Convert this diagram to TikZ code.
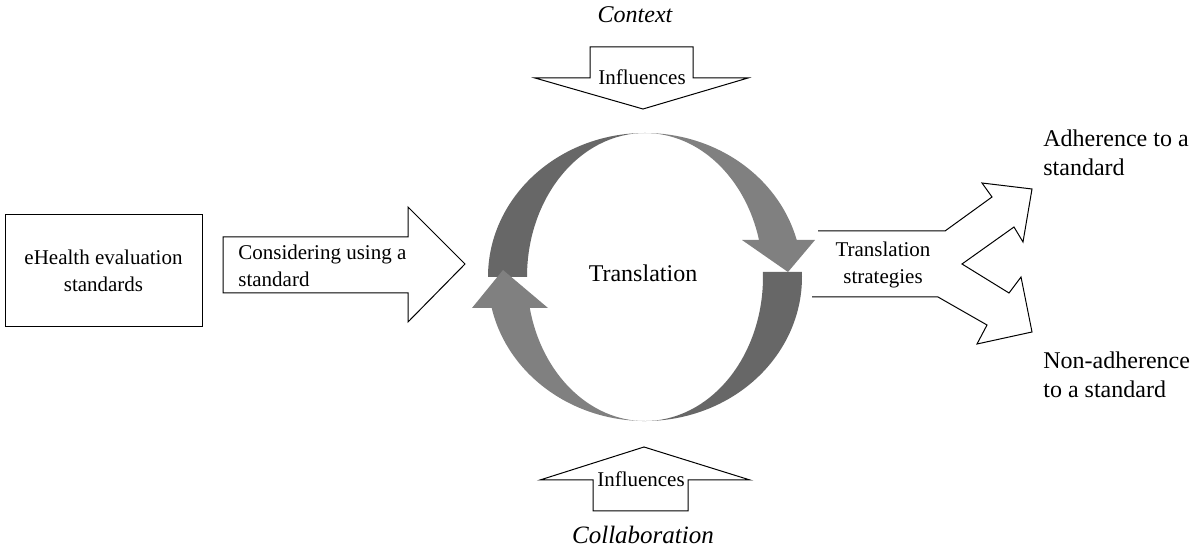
\documentclass[tikz,border=0pt]{standalone}
\usepackage{fontspec}
\setmainfont{Liberation Serif}
\usetikzlibrary{positioning}
\definecolor{darkarc}{HTML}{676767}
\definecolor{lightarc}{HTML}{808080}

\begin{document}
\begin{tikzpicture}[x=0.5pt,y=-0.5pt,
txt/.style={inner sep=0pt,align=center,font=\fontsize{10.5}{13.5}\selectfont},
big/.style={inner sep=0pt,align=left,font=\fontsize{12}{14.5}\selectfont},
blockarrow/.style={draw=black,line width=0.5pt,fill=white,line join=miter}]
\useasboundingbox (0,0) rectangle (1195,549);
% input box and first arrow
\node[draw,line width=0.5pt,minimum width=98.5pt,minimum height=56pt,txt] (std) at (103.5,271) {eHealth evaluation\\standards};
\draw[blockarrow] (223,237) -- (408,237) -- (408,207) -- (465,264) -- (408,322) -- (408,293) -- (223,293) -- cycle;
\node[txt,align=left,anchor=west] (cons) at (238,265.5) {Considering using a\\standard};
% circular arrows
\fill[darkarc] (645,133) arc[start angle=270,end angle=180,x radius=157,y radius=144] -- (527,277) arc[start angle=180,end angle=270,x radius=118,y radius=144] -- cycle;
\fill[darkarc] (801.9,272) arc[start angle=358,end angle=450,x radius=157,y radius=144] arc[start angle=90,end angle=-2,x radius=118,y radius=144] -- cycle;
\fill[lightarc] (645,133) arc[start angle=270,end angle=345.1,x radius=157,y radius=144] -- (815,240) -- (788,272) -- (742,240) -- (759,240) arc[start angle=345.1,end angle=270,x radius=118,y radius=144] -- cycle;
\fill[lightarc] (645,421) arc[start angle=90,end angle=167.6,x radius=157,y radius=144] -- (472,308) -- (503,270) -- (548,308) -- (529.8,308) arc[start angle=167.6,end angle=90,x radius=118,y radius=144] -- cycle;
\node[big] (transl) at (643,273) {Translation};
% influences from above and below
\node[big,font=\fontsize{12}{14.5}\selectfont\itshape] (ctx) at (635,15) {Context};
\draw[blockarrow] (590,47) -- (693,47) -- (693,78) -- (748,78) -- (643,109) -- (535,78) -- (590,78) -- cycle;
\node[txt] (infltop) at (642,77) {Influences};
\draw[blockarrow] (593,511) -- (688,511) -- (688,480) -- (750,480) -- (644,447) -- (540,480) -- (593,480) -- cycle;
\node[txt] (inflbot) at (641,479) {Influences};
\node[big,font=\fontsize{12.5}{14.5}\selectfont\itshape] (collab) at (643,535) {Collaboration};
% split arrow to the outcomes
\draw[line width=0.5pt,line join=miter] (818,231) -- (945,231) -- (992,197) -- (982,183) -- (1032,189) -- (1023,242) -- (1014,227) -- (962,264) -- (1009,293) -- (1021,277) -- (1032,332) -- (977,344) -- (987,325) -- (938,297) -- (812,297);
\node[txt] (strat) at (883,265) {Translation\\strategies};
\node[big,anchor=west] (adh) at (1043,152.5) {Adherence to a\\standard};
\node[big,anchor=west] (nonadh) at (1043,375) {Non-adherence\\to a standard};
\end{tikzpicture}
\end{document}
